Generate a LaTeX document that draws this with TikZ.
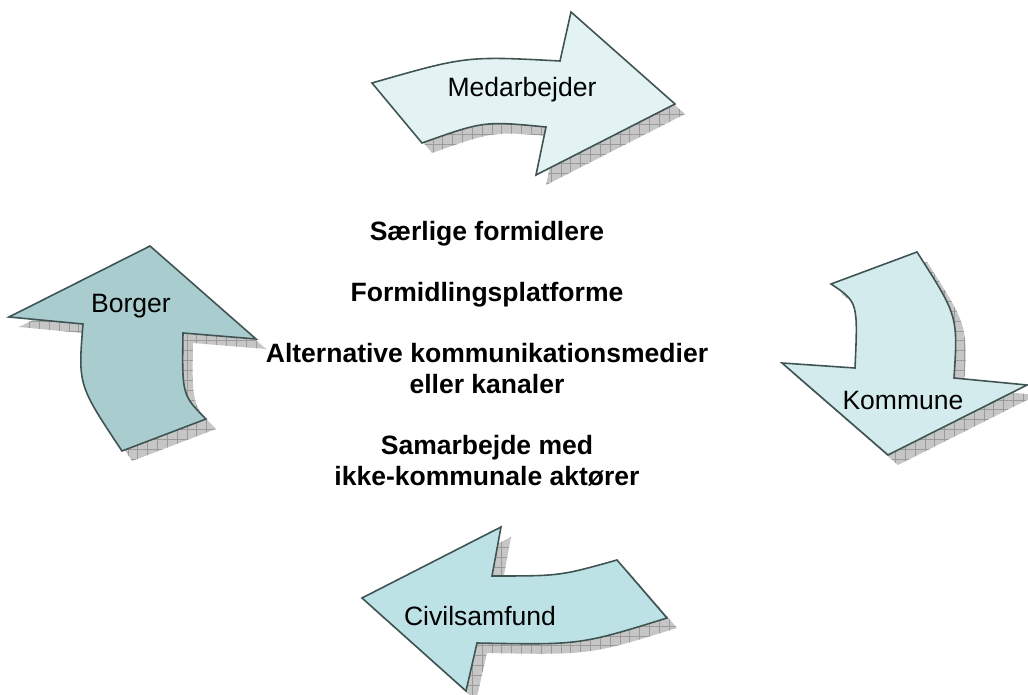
\documentclass[tikz,border=0pt]{standalone}
\usepackage{fontspec}
\setmainfont{Liberation Sans}
\usetikzlibrary{patterns.meta}

\definecolor{edgegray}{HTML}{3F5353}
\definecolor{shadowgray}{HTML}{C6C6C6}
\definecolor{gridgray}{HTML}{9A9A9A}
\definecolor{medfill}{HTML}{E3F3F3}
\definecolor{komfill}{HTML}{D3EBEC}
\definecolor{civfill}{HTML}{BDE2E5}
\definecolor{borfill}{HTML}{A9CCCE}

\tikzset{
  bigarrow/.style={draw=edgegray, line width=0.9pt, line join=miter,
    preaction={fill=shadowgray, transform canvas={shift={(10,10)}}},
    preaction={pattern={Hatch[distance=5.6pt, angle=0, line width=0.35pt]},
      pattern color=gridgray, transform canvas={shift={(10,10)}}}},
  arrowtext/.style={font=\fontsize{15.1}{18}\selectfont, anchor=base, inner sep=0pt},
  midtext/.style={font=\fontsize{15.1}{18}\selectfont\bfseries, anchor=base, inner sep=0pt},
}

\begin{document}
\begin{tikzpicture}[x=0.02cm, y=-0.02cm]
\useasboundingbox (0,0) rectangle (1028,695);

\draw[bigarrow, fill=medfill] (372,83) .. controls (466,56) .. (560,61) -- (571,12)
  -- (675,104) -- (536,175) -- (546,127) .. controls (484,121) .. (422,143) -- cycle;
\draw[bigarrow, fill=komfill] (831,284) -- (917,252) .. controls (958,316) .. (954,378)
  -- (1027,385) -- (888,455) -- (782,363) -- (855,368) .. controls (858,302) .. (831,284) -- cycle;
\draw[bigarrow, fill=civfill] (501,527) -- (492,576) .. controls (560,576) .. (617,560)
  -- (667,618) .. controls (580,645) .. (477,643) -- (466,691) -- (362,598) -- cycle;
\draw[bigarrow, fill=borfill] (9,317) -- (150,246) -- (256,339) -- (183,333)
  .. controls (182,395) .. (206,419) -- (122,451) .. controls (78,385) .. (83,324) -- cycle;

\node[arrowtext] (medarbejder) at (522,97) {Medarbejder};
\node[arrowtext] (kommune) at (903,410) {Kommune};
\node[arrowtext] (civil) at (480,625) {Civilsamfund};
\node[arrowtext] (borger) at (131,313) {Borger};

\node[midtext] (saerlige) at (487,241) {Særlige formidlere};
\node[midtext] (platforme) at (487,302) {Formidlingsplatforme};
\node[midtext] (medier) at (487,363) {Alternative kommunikationsmedier};
\node[midtext] (kanaler) at (487,394) {eller kanaler};
\node[midtext] (samarbejde) at (487,455) {Samarbejde med};
\node[midtext] (aktoerer) at (487,486) {ikke-kommunale aktører};
\end{tikzpicture}
\end{document}
